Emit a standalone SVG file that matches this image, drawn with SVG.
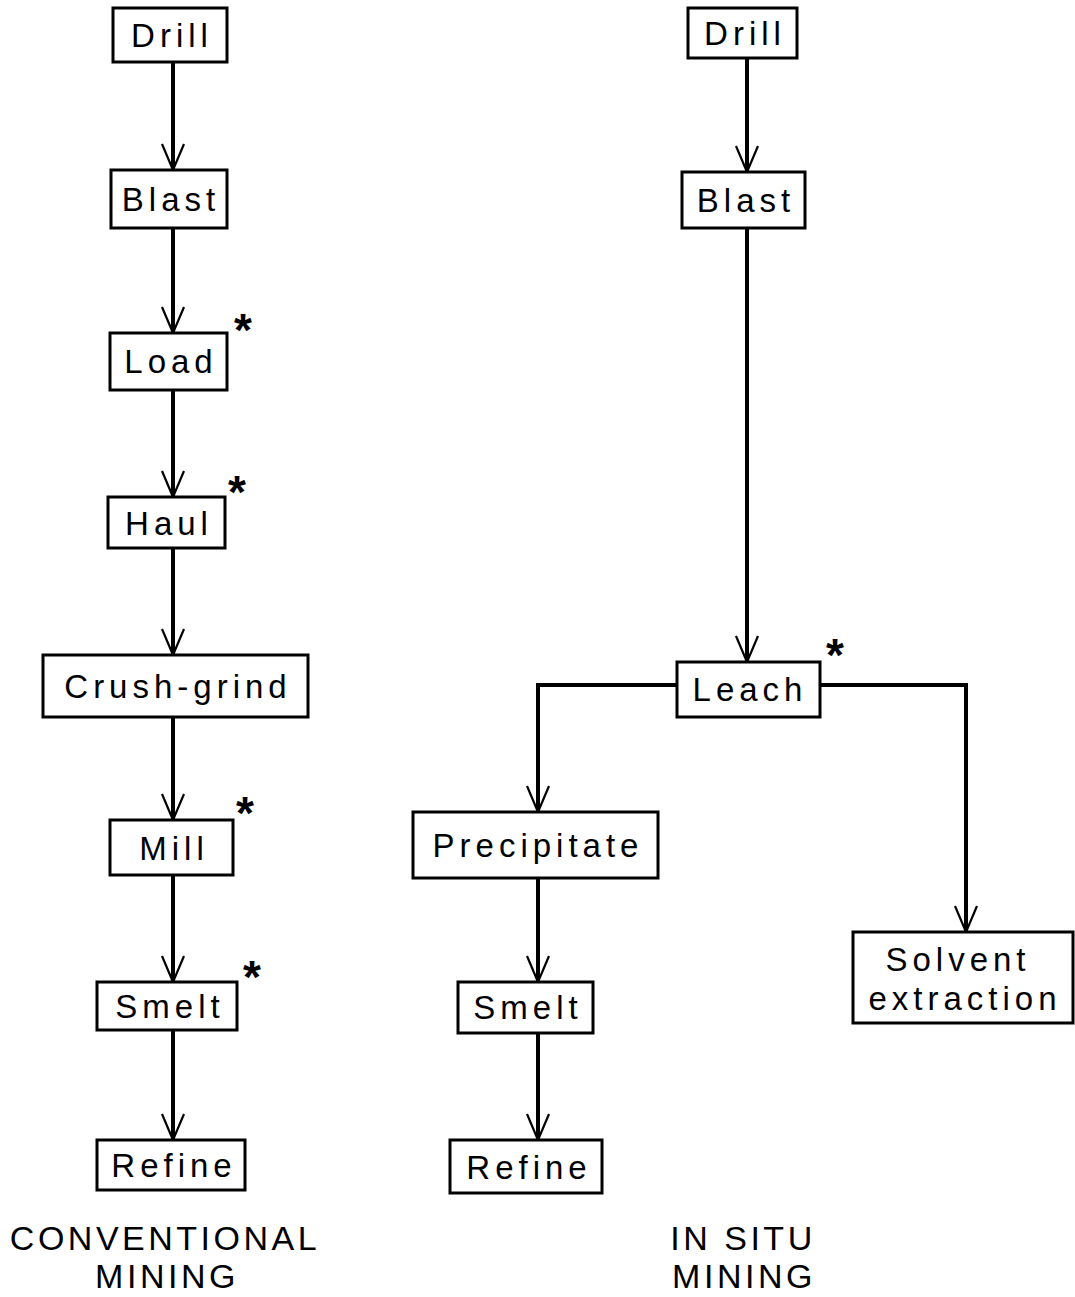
<svg xmlns="http://www.w3.org/2000/svg" width="1075" height="1297" viewBox="0 0 1075 1297">
<style>
.box{fill:#fff;stroke:#000;stroke-width:3}
.lbl{font-family:"Liberation Sans",Arial,sans-serif;font-size:33px;letter-spacing:5px;text-anchor:middle;fill:#000}
.cap{font-family:"Liberation Sans",Arial,sans-serif;font-size:34px;letter-spacing:3.5px;text-anchor:middle;fill:#000}
.star{font-family:"Liberation Sans",Arial,sans-serif;font-size:46px;font-weight:bold;text-anchor:middle;fill:#000}
.ln{fill:none;stroke:#000;stroke-width:4}
</style>
<defs>
<marker id="ah" markerUnits="userSpaceOnUse" viewBox="-30 -14 32 28" refX="0" refY="0" markerWidth="32" markerHeight="28" orient="auto">
<path d="M-26,-11 L0,0 L-26,11" fill="none" stroke="#000" stroke-width="2.2"/>
</marker>
</defs>
<g id="connectors">
<path class="ln" d="M173,62 V170" marker-end="url(#ah)"/>
<path class="ln" d="M173,228 V333" marker-end="url(#ah)"/>
<path class="ln" d="M173,390 V497" marker-end="url(#ah)"/>
<path class="ln" d="M173,548 V655" marker-end="url(#ah)"/>
<path class="ln" d="M173,717 V820" marker-end="url(#ah)"/>
<path class="ln" d="M173,875 V982" marker-end="url(#ah)"/>
<path class="ln" d="M173,1030 V1140" marker-end="url(#ah)"/>
<path class="ln" d="M747,58 V172" marker-end="url(#ah)"/>
<path class="ln" d="M747,228 V662" marker-end="url(#ah)"/>
<path class="ln" d="M677,685 H538 V812" marker-end="url(#ah)"/>
<path class="ln" d="M820,685 H966 V932" marker-end="url(#ah)"/>
<path class="ln" d="M538,878 V982" marker-end="url(#ah)"/>
<path class="ln" d="M538,1033 V1140" marker-end="url(#ah)"/>
</g>
<g id="c-drill"><rect class="box" x="113" y="8" width="114" height="54"/><text class="lbl" x="172" y="47">Drill</text></g>
<g id="c-blast"><rect class="box" x="111" y="170" width="116" height="58"/><text class="lbl" x="171" y="211">Blast</text></g>
<g id="c-load"><rect class="box" x="110" y="333" width="117" height="57"/><text class="lbl" x="171" y="373">Load</text><text class="star" x="243" y="346">*</text></g>
<g id="c-haul"><rect class="box" x="108" y="497" width="117" height="51"/><text class="lbl" x="169" y="535">Haul</text><text class="star" x="237" y="508">*</text></g>
<g id="c-crush"><rect class="box" x="43" y="655" width="265" height="62"/><text class="lbl" x="178" y="698">Crush-grind</text></g>
<g id="c-mill"><rect class="box" x="110" y="820" width="123" height="55"/><text class="lbl" x="174" y="860">Mill</text><text class="star" x="245" y="829">*</text></g>
<g id="c-smelt"><rect class="box" x="97" y="982" width="140" height="48"/><text class="lbl" x="170" y="1018">Smelt</text><text class="star" x="252" y="993">*</text></g>
<g id="c-refine"><rect class="box" x="97" y="1140" width="148" height="50"/><text class="lbl" x="174" y="1177">Refine</text></g>
<g id="s-drill"><rect class="box" x="688" y="8" width="109" height="50"/><text class="lbl" x="745" y="45">Drill</text></g>
<g id="s-blast"><rect class="box" x="682" y="172" width="123" height="56"/><text class="lbl" x="746" y="212">Blast</text></g>
<g id="s-leach"><rect class="box" x="677" y="662" width="143" height="55"/><text class="lbl" x="750" y="701">Leach</text><text class="star" x="835" y="671">*</text></g>
<g id="s-precip"><rect class="box" x="413" y="812" width="245" height="66"/><text class="lbl" x="538" y="857">Precipitate</text></g>
<g id="s-smelt"><rect class="box" x="458" y="982" width="135" height="51"/><text class="lbl" x="528" y="1019">Smelt</text></g>
<g id="s-refine"><rect class="box" x="450" y="1140" width="152" height="53"/><text class="lbl" x="529" y="1179">Refine</text></g>
<g id="s-solvent"><rect class="box" x="853" y="932" width="220" height="91"/><text class="lbl" x="958" y="971">Solvent</text><text class="lbl" x="965" y="1010">extraction</text></g>
<g id="captions">
<text class="cap" x="165" y="1250">CONVENTIONAL</text>
<text class="cap" x="167" y="1288">MINING</text>
<text class="cap" x="743" y="1250">IN SITU</text>
<text class="cap" x="744" y="1288">MINING</text>
</g>
</svg>
